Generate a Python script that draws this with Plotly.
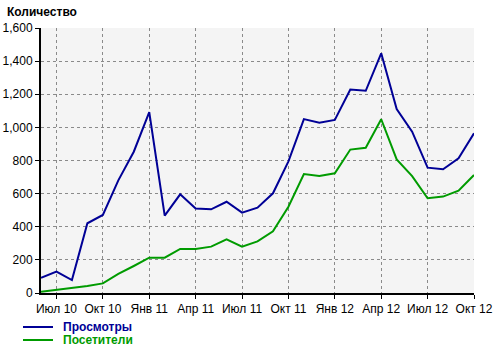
import plotly.graph_objects as go

months = ["Июн 10", "Июл 10", "Авг 10", "Сен 10", "Окт 10", "Ноя 10", "Дек 10",
          "Янв 11", "Фев 11", "Мар 11", "Апр 11", "Май 11", "Июн 11", "Июл 11",
          "Авг 11", "Сен 11", "Окт 11", "Ноя 11", "Дек 11", "Янв 12", "Фев 12",
          "Мар 12", "Апр 12", "Май 12", "Июн 12", "Июл 12", "Авг 12", "Сен 12", "Окт 12"]

views = [92, 129, 78, 421, 471, 680, 853, 1092, 467, 596, 510, 505, 551, 485,
         515, 602, 795, 1050, 1028, 1045, 1228, 1221, 1447, 1111, 974, 757, 747, 813, 964]

visitors = [8, 18, 32, 42, 58, 115, 163, 213, 213, 266, 266, 280, 324, 280,
            312, 372, 521, 718, 706, 723, 866, 877, 1049, 807, 706, 572, 582, 618, 712]

tick_labels = ["Июл 10", "Окт 10", "Янв 11", "Апр 11", "Июл 11", "Окт 11",
               "Янв 12", "Апр 12", "Июл 12", "Окт 12"]

series_names = ["Просмотры", "Посетители"]

BLUE = "#000096"
GREEN = "#009b00"
colors = [BLUE, GREEN]
FONT = "Liberation Sans, Arial, sans-serif"

L, R, T, B = 41, 26, 28, 58
W, H = 500, 351
PW, PH = W - L - R, H - T - B


def px(x):
    return (x - L) / PW


def py(y):
    return (H - B - y) / PH


fig = go.Figure()
for name, vals, col in zip(series_names, [views, visitors], colors):
    fig.add_trace(go.Scatter(x=months, y=vals, mode="lines",
                             line=dict(color=col, width=2), name=name,
                             showlegend=False))

shapes = []
annotations = [dict(text="<b>Количество</b>", xref="paper", yref="paper",
                    x=px(5), y=py(12), xanchor="left", yanchor="middle",
                    showarrow=False, font=dict(family=FONT, size=12, color="black"))]
for i, (name, col) in enumerate(zip(series_names, colors)):
    yy = 327 + i * 13
    shapes.append(dict(type="line", xref="paper", yref="paper",
                       x0=px(23), x1=px(53), y0=py(yy), y1=py(yy),
                       line=dict(color=col, width=2)))
    annotations.append(dict(text=f"<b>{name}</b>", xref="paper", yref="paper",
                            x=px(61), y=py(yy), xanchor="left", yanchor="middle",
                            showarrow=False,
                            font=dict(family=FONT, size=12, color=col)))

fig.update_layout(
    width=W, height=H,
    margin=dict(l=L, r=R, t=T, b=B, autoexpand=False),
    paper_bgcolor="white",
    plot_bgcolor="#f4f4f4",
    font=dict(family=FONT, size=12, color="black"),
    showlegend=False,
    shapes=shapes,
    annotations=annotations,
)

fig.update_xaxes(
    type="category",
    range=[0, len(months) - 1],
    tickmode="array", tickvals=tick_labels, ticktext=tick_labels,
    showgrid=True, gridcolor="#8a8a8a", griddash="dot", gridwidth=1,
    showline=True, linecolor="black", linewidth=2,
    ticks="outside", ticklen=4, tickcolor="black", tickwidth=1,
    zeroline=False, tickangle=0, automargin=False,
)
fig.update_yaxes(
    range=[0, 1600], dtick=200, tickformat=",",
    showgrid=True, gridcolor="#8a8a8a", griddash="dot", gridwidth=1,
    showline=True, linecolor="black", linewidth=2,
    ticks="outside", ticklen=4, tickcolor="black", tickwidth=1,
    zeroline=False, automargin=False,
)

fig.write_html("out.html")
